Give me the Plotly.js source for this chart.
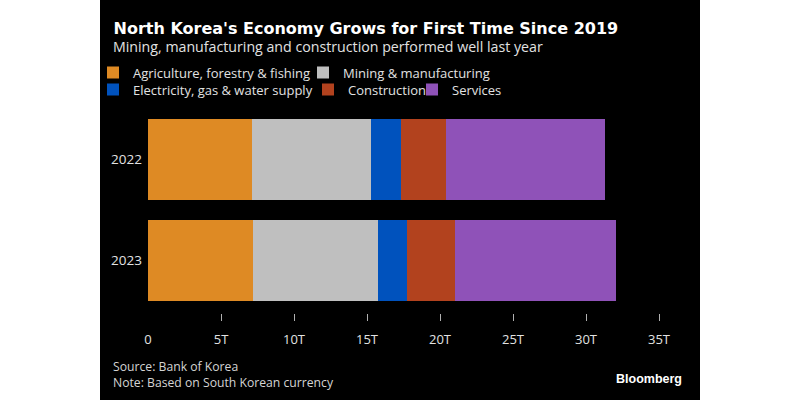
<!DOCTYPE html>
<html>
<head>
<meta charset="utf-8">
<script src="https://cdn.plot.ly/plotly-3.0.1.min.js"></script>
<style>
  html, body { margin: 0; padding: 0; background: #ffffff; width: 800px; height: 400px; overflow: hidden; }
  #chart { position: absolute; left: 100px; top: 0; width: 600px; height: 400px; background: #000; }
</style>
</head>
<body>
<div id="chart"></div>
<script>
// ---- data (trillions of won) ----
const years = ['2022', '2023'];
const agriculture = [7.14, 7.19];
const mining = [8.13, 8.55];
const electricity = [2.09, 1.97];
const construction = [3.04, 3.32];
const services = [10.88, 11.04];
const seriesNames = ['Agriculture, forestry & fishing', 'Mining & manufacturing',
  'Electricity, gas & water supply', 'Construction', 'Services'];
const xTickVals = [0, 5, 10, 15, 20, 25, 30, 35];
const xTickText = ['0', '5T', '10T', '15T', '20T', '25T', '30T', '35T'];

// ---- styles ----
const colors = ['#DE8A24', '#BFBFBF', '#0052BD', '#B2421E', '#8F52B8'];
const W = 600, H = 400;
const M = { l: 47.7, r: 41.3, t: 109.4, b: 87, autoexpand: false };
const PW = W - M.l - M.r, PH = H - M.t - M.b;
const px2x = px => (px - M.l) / PW;
const py2y = py => (H - M.b - py) / PH;
const REG = 'Open Sans, Liberation Sans, Arial, sans-serif';
const BOLD = 'DejaVu Sans, Verdana, sans-serif';
const txt = '#e2e2e2';

const values = [agriculture, mining, electricity, construction, services];
const legendIds = ['legend', 'legend2', 'legend3', 'legend4', 'legend5'];
const traces = values.map((v, i) => ({
  type: 'bar', orientation: 'h', y: years, x: v, name: seriesNames[i],
  marker: { color: colors[i], line: { width: 0 } },
  legend: legendIds[i], hoverinfo: 'skip'
}));
// empty helper trace so the label axis (x2) is drawn
traces.push({ type: 'scatter', mode: 'markers', x: [], y: [], xaxis: 'x2', yaxis: 'y',
  showlegend: false, hoverinfo: 'skip' });

// legend square centres (px in this div) and row centres
const legPos = [[12.7, 73], [222.7, 73], [12.7, 90], [227.7, 90], [331.7, 90]];
const legendBase = (px, py) => ({
  xref: 'paper', yref: 'paper', x: px2x(px - 20), y: py2y(py),
  xanchor: 'left', yanchor: 'middle', orientation: 'h', bgcolor: 'rgba(0,0,0,0)',
  borderwidth: 0, font: { family: REG, size: 13, color: txt }
});

const layout = {
  width: W, height: H, margin: M,
  paper_bgcolor: '#000', plot_bgcolor: '#000',
  barmode: 'stack', bargap: 0.2, showlegend: true,
  title: {
    text: "North Korea's Economy Grows for First Time Since 2019",
    xref: 'container', yref: 'container', x: 13.5 / W, xanchor: 'left',
    y: 1 - 28 / H, yanchor: 'middle',
    font: { family: BOLD, size: 16, color: '#ffffff', weight: 'bold' }
  },
  xaxis: {
    range: [0, 35], tickvals: xTickVals.slice(1), ticks: 'outside', ticklen: 7,
    tickwidth: 1, tickcolor: '#b0b0b0', showticklabels: false,
    showgrid: false, zeroline: false, showline: false, fixedrange: true
  },
  xaxis2: {
    overlaying: 'x', anchor: 'y', side: 'bottom', range: [0, 35],
    tickvals: xTickVals, ticktext: xTickText, ticks: '', ticklabelstandoff: 17,
    tickfont: { family: REG, size: 13, color: txt },
    showgrid: false, zeroline: false, showline: false, fixedrange: true
  },
  yaxis: {
    type: 'category', categoryarray: years, categoryorder: 'array',
    range: [1.524, -0.5], ticks: '', ticklabelstandoff: 5,
    tickfont: { family: REG, size: 13.5, color: txt },
    showgrid: false, zeroline: false, showline: false, fixedrange: true
  },
  annotations: [
    { text: 'Mining, manufacturing and construction performed well last year',
      xref: 'paper', yref: 'paper', x: px2x(10.5), y: py2y(47), xanchor: 'left', yanchor: 'middle',
      showarrow: false, font: { family: REG, size: 14.2, color: txt } },
    { text: 'Source: Bank of Korea<br>Note: Based on South Korean currency',
      xref: 'paper', yref: 'paper', x: px2x(10.5), y: py2y(374.8), xanchor: 'left', yanchor: 'middle',
      align: 'left', showarrow: false, font: { family: REG, size: 12.2, color: '#d4d4d4' } },
    { text: '<b>Bloomberg</b>',
      xref: 'paper', yref: 'paper', x: px2x(584), y: py2y(379), xanchor: 'right', yanchor: 'middle',
      showarrow: false, font: { family: 'Liberation Sans, Arial, sans-serif', size: 12.5, color: '#ffffff' } }
  ]
};
legendIds.forEach((id, i) => { layout[id] = legendBase(legPos[i][0], legPos[i][1]); });

Plotly.newPlot('chart', traces, layout, { displayModeBar: false, staticPlot: true });
</script>
</body>
</html>
